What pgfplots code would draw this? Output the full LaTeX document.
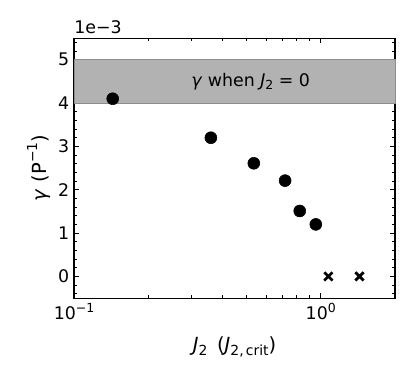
\documentclass[border=0pt]{standalone}
\usepackage{fontspec}
\setmainfont{DejaVu Sans}
\usepackage{pgfplots}
\pgfplotsset{compat=1.18}
\usetikzlibrary{calc}
\newcommand{\sub}[1]{\raisebox{-0.3ex}{\fontsize{10}{10}\selectfont #1}}
\newcommand{\ssub}[1]{\raisebox{-0.3ex}{\fontsize{9}{9}\selectfont #1}}
\pgfplotstableread{
x y
0.1435 4.10
0.3587 3.20
0.5355 2.61
0.717 2.21
0.822 1.51
0.955 1.20
}\dots
\pgfplotstableread{
x y
1.074 0
1.435 0
}\crosses
\begin{document}
\begin{tikzpicture}
\begin{axis}[
  scale only axis,
  width=231.1pt, height=187.2pt,
  xmode=log, xmin=0.1, xmax=2,
  ymin=-0.5, ymax=5.5,
  xtick={0.1,1},
  xticklabels={10\raisebox{0.8ex}{\fontsize{9}{9}\selectfont −1}, 10\raisebox{0.8ex}{\fontsize{9}{9}\selectfont 0}},
  minor xtick={0.2,0.3,0.4,0.5,0.6,0.7,0.8,0.9,2},
  ytick={0,1,2,3,4,5},
  minor ytick={-0.4,-0.2,0.2,0.4,0.6,0.8,1.2,1.4,1.6,1.8,2.2,2.4,2.6,2.8,3.2,3.4,3.6,3.8,4.2,4.4,4.6,4.8,5.2,5.4},
  tick align=inside,
  xtick pos=both, ytick pos=both,
  major tick length=3.5pt, minor tick length=2pt,
  every tick/.style={black, line width=0.8pt},
  minor tick style={line width=0.6pt},
  axis line style={line width=0.8pt},
  tick label style={font=\fontsize{12.5}{15}\selectfont},
  /pgf/number format/assume math mode=true,
  xlabel={\textit{J}\sub{2}\hspace{0.5em}(\textit{J}\sub{2,\,crit})},
  ylabel={\textit{γ}\hspace{0.35em}(P\raisebox{0.9ex}{\fontsize{10}{10}\selectfont −1})},
  label style={font=\fontsize{14}{16}\selectfont},
  xlabel style={at={(axis description cs:0.5,-0.207)}, anchor=base},
  ylabel style={at={(axis description cs:-0.085,0.5)}, anchor=base},
  clip=false,
]
\addplot[fill=black!30, draw=black!45, line width=0.6pt] coordinates {(0.1,4) (2,4) (2,5) (0.1,5)} -- cycle;
\node[font=\fontsize{12.5}{15}\selectfont] at (axis cs:0.52,4.5) {\textit{γ} when \textit{J}\ssub{2} = 0};
\addplot[only marks, mark=*, mark size=4.3pt, black] table[x=x,y=y] {\dots};
\addplot[only marks, mark=x, mark size=4.2pt, black, line width=2pt] table[x=x,y=y] {\crosses};
\node[anchor=south west, font=\fontsize{12.5}{15}\selectfont, inner sep=0pt] at ($(rel axis cs:0,1)+(0pt,3pt)$) {1e−3};
\end{axis}
\pgfresetboundingbox
\path ($(current axis.south west)+(-53.3pt,-61.2pt)$) rectangle ($(current axis.north east)+(14.4pt,27.4pt)$);
\end{tikzpicture}
\end{document}
